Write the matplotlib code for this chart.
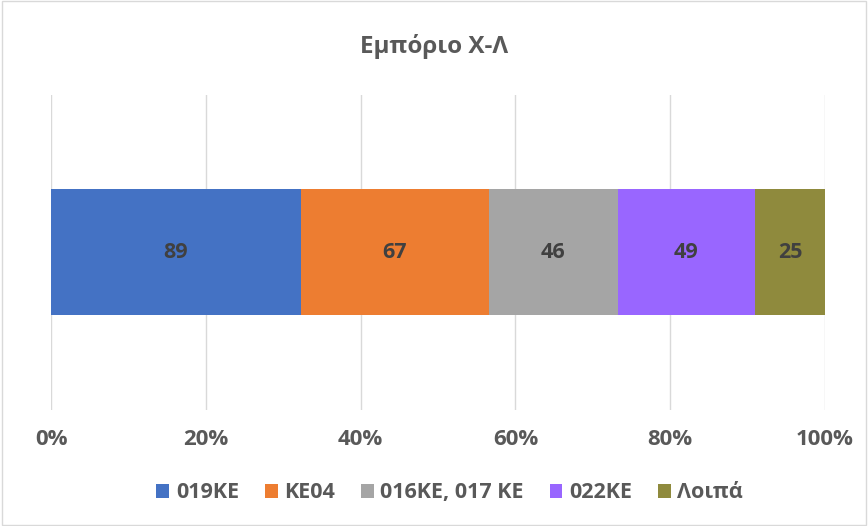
import numpy as np
import matplotlib.pyplot as plt
from matplotlib.patches import Rectangle

plt.rcParams['font.family'] = ['Open Sans', 'DejaVu Sans']

# data
categories = ['019KE', 'KE04', '016KE, 017 KE', '022KE', 'Λοιπά']
values = [89, 67, 46, 49, 25]
colors = ['#4472C4', '#ED7D31', '#A5A5A5', '#9966FF', '#8F8A3D']
ticks = [0, 20, 40, 60, 80, 100]

shares = np.array(values) / sum(values) * 100

fig = plt.figure(figsize=(8.68, 5.26), dpi=100)
ax = fig.add_axes([0.0588, 0.2205, 0.8917, 0.599])

left = 0
for name, v, s, c in zip(categories, values, shares, colors):
    ax.barh(0, s, left=left, height=0.4, color=c, label=name, zorder=3)
    ax.text(left + s / 2, 0, str(v), ha='center', va='center',
            fontsize=15.5, fontweight='bold', color='#404040', zorder=4)
    left += s

ax.set_xlim(0, 100)
ax.set_ylim(-0.5, 0.5)
ax.set_xticks(ticks)
ax.set_xticklabels([f'{t}%' for t in ticks], fontsize=16, fontweight='bold', color='#595959')
ax.set_yticks([])
ax.tick_params(axis='x', length=0, pad=14)
ax.grid(axis='x', color='#D9D9D9', linewidth=1, zorder=0)
for sp in ax.spines.values():
    sp.set_visible(False)

fig.suptitle('Εμπόριο Χ-Λ', y=0.935, fontsize=17.5, fontweight='bold', color='#595959')

leg = fig.legend(loc='center', bbox_to_anchor=(0.518, 0.063), ncol=5, frameon=False,
                 handlelength=0.6, handleheight=0.6, handletextpad=0.3, columnspacing=1.2,
                 prop={'size': 15.5, 'weight': 'bold'})
for t in leg.get_texts():
    t.set_color('#595959')

fig.patches.append(Rectangle((0.002, 0.002), 0.996, 0.996, transform=fig.transFigure,
                             fill=False, edgecolor='#D9D9D9', linewidth=1))

fig.savefig('out.png', dpi=100)
